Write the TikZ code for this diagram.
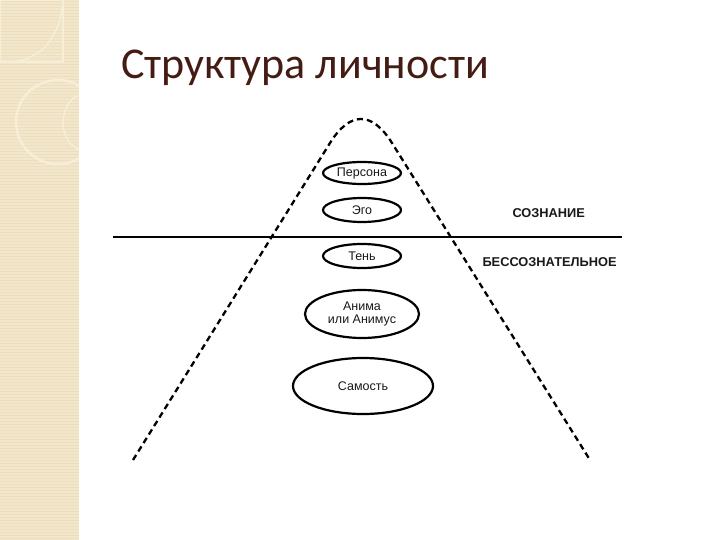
\documentclass[tikz,border=0pt]{standalone}
\usepackage{fontspec}
\setmainfont{Liberation Sans}
\newfontfamily\titlefont{Carlito}
\definecolor{strip}{RGB}{243,231,203}
\definecolor{stripline}{RGB}{236,222,190}
\definecolor{deco}{RGB}{247,238,215}
\definecolor{titlecol}{RGB}{68,28,20}
\definecolor{inktxt}{RGB}{25,25,25}
\tikzset{
  layer/.style={draw=black,line width=2.2pt,ellipse,inner sep=0pt},
  lbl/.style={font=\fontsize{12.5}{13.5}\selectfont,text=inktxt},
  zone/.style={font=\bfseries\fontsize{12.8}{14}\selectfont,text=inktxt,anchor=west},
  berg/.style={line width=2.3pt,dash pattern=on 6pt off 4pt},
}
\usetikzlibrary{shapes.geometric}
\begin{document}
\begin{tikzpicture}[x=1pt,y=-1pt]
\useasboundingbox (0,0) rectangle (720,540);
\fill[white] (0,0) rectangle (720,540);
% left decorative strip
\fill[strip] (0,0) rectangle (79,540);
\foreach \yy in {1,4,...,540} {\draw[stripline,line width=0.6pt] (0,\yy) -- (79,\yy);}
\begin{scope}
\clip (0,0) rectangle (79,540);
\draw[deco,line width=1.2pt] (0,0) rectangle (63,62);
\draw[deco,line width=1.5pt] (63,0) .. controls (60,40) and (40,58) .. (14,62);
\draw[deco,line width=2.5pt] (58,122) circle (42);
\draw[deco,line width=1.5pt] (80,95) .. controls (60,100) and (55,140) .. (80,150);
\end{scope}
% title
\node[anchor=base west,inner sep=0pt,text=titlecol,font=\titlefont\fontsize{44}{48}\selectfont] (title) at (121,79) {Структура личности};
% iceberg
\draw[berg] (133,460) -- (330,143) .. controls (350,111) and (372,111) .. (392,143) -- (590,460);
% waterline
\coordinate (wl) at (113,237);
\coordinate (wr) at (622,237);
\draw[line width=2.8pt] (wl) -- (wr);
% layers
\node[layer,minimum width=78pt,minimum height=22pt] (persona) at (362,173) {};
\node[lbl] at (persona) {Персона};
\node[layer,minimum width=78pt,minimum height=24pt] (ego) at (362,210) {};
\node[lbl] at (ego) {Эго};
\node[layer,minimum width=78pt,minimum height=24pt] (shadow) at (362,256) {};
\node[lbl] at (shadow) {Тень};
\node[layer,minimum width=114pt,minimum height=48pt] (anima) at (362,314) {};
\node[lbl,align=center] at (anima) {Анима\\или Анимус};
\node[layer,minimum width=140pt,minimum height=56pt] (self) at (363,386) {};
\node[lbl] at (self) {Самость};
% zone labels
\node[zone] (cons) at (509,213) {СОЗНАНИЕ};
\node[zone] (uncons) at (479,262) {БЕССОЗНАТЕЛЬНОЕ};
\end{tikzpicture}
\end{document}
